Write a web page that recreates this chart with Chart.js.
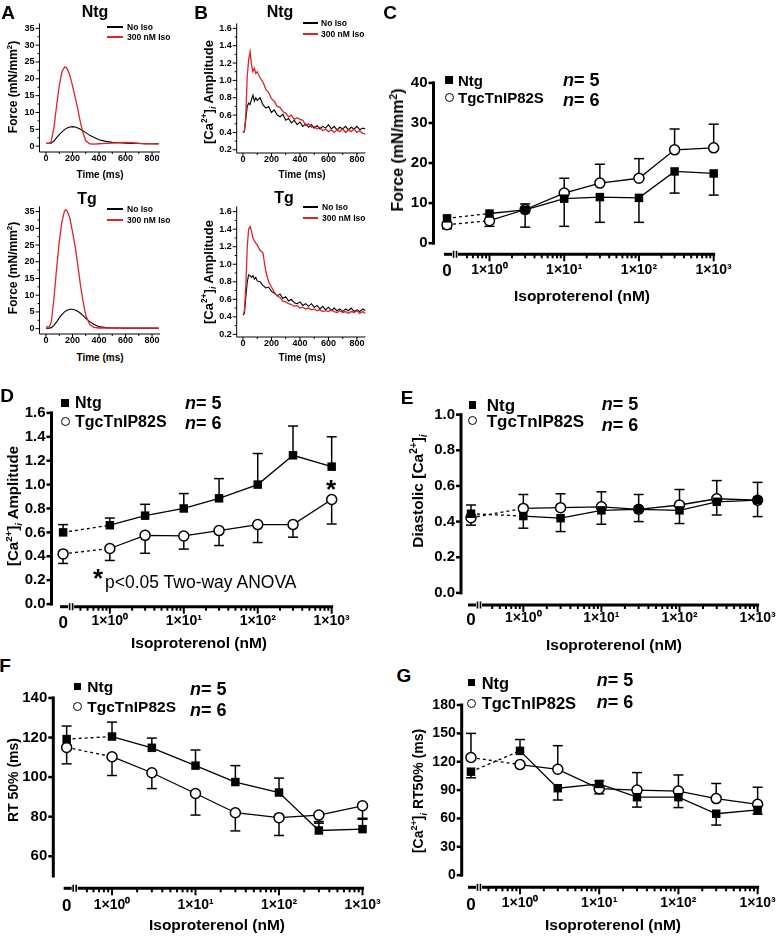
<!DOCTYPE html>
<html lang="en">
<head>
<meta charset="UTF-8" />
<title>Isoproterenol response, Ntg vs TgcTnIP82S</title>
<script src="https://cdn.jsdelivr.net/npm/chart.js"></script>
<style>
  body { margin: 0; background: #fff; }
  #fig { position: relative; width: 777px; height: 936px; overflow: hidden;
         font-family: "Liberation Sans", Arial, sans-serif; color: #000; }
  #fig canvas { position: absolute; }
  .t { position: absolute; white-space: nowrap; line-height: 1; font-weight: bold; }
  .mk { position: absolute; box-sizing: border-box; }
  sup, sub { font-size: 0.65em; line-height: 0; }
</style>
</head>
<body>
<div id="fig"></div>
<script>
const FONT = '"Liberation Sans", Arial, sans-serif';
Chart.defaults.font.family = FONT;
Chart.defaults.color = '#000';

// ---- A: force traces (mN/mm2) ----
const timeA = [0, 25, 40, 60, 80, 100, 120, 140, 150, 160, 180, 200, 220, 240, 260, 280, 300, 330, 360, 400, 450, 500, 550, 600, 650, 700, 750, 800, 850];
const forceNtgNoIso = [0.8, 0.8, 0.9, 1.5, 2.5, 3.4, 4.2, 4.9, 5.2, 5.4, 5.7, 5.8, 5.7, 5.4, 5.0, 4.5, 4.0, 3.2, 2.6, 1.9, 1.4, 1.1, 1.0, 0.9, 0.8, 0.8, 0.7, 0.7, 0.7];
const forceNtgIso = [0.8, 0.8, 1.5, 5.5, 12, 18, 22, 23.5, 23.4, 23.0, 21.0, 18.0, 14.5, 11.0, 7.0, 3.8, 1.6, 0.7, 0.6, 0.7, 0.8, 0.9, 1.0, 1.1, 1.0, 0.8, 0.7, 0.7, 0.6];
const forceTgNoIso = [0.1, 0.1, 0.3, 1.0, 2.0, 3.2, 4.2, 5.0, 5.3, 5.5, 5.8, 5.8, 5.6, 5.2, 4.6, 3.9, 3.1, 2.1, 1.3, 0.6, 0.3, 0.2, 0.2, 0.1, 0.1, 0.1, 0.1, 0.1, 0.1];
const forceTgIso = [0.5, 0.5, 2.0, 9.0, 18.0, 26.0, 32.0, 35.2, 35.5, 35.2, 33.0, 29.0, 24.5, 19.0, 13.0, 8.0, 4.0, 1.2, 0.4, 0.2, 0.2, 0.2, 0.2, 0.2, 0.2, 0.2, 0.2, 0.2, 0.2];

// ---- B: Ca2+ transients (amplitude) ----
const timeB = [0, 10, 20, 30, 40, 50, 60, 70, 80, 90, 100, 120, 140, 160, 180, 200, 220, 240, 260, 280, 300, 320, 340, 360, 380, 400, 420, 440, 460, 480, 500, 520, 540, 560, 580, 600, 620, 640, 660, 680, 700, 720, 740, 760, 780, 800, 820, 840, 860];
const caNtgNoIso = [0.40, 0.41, 0.55, 0.70, 0.74, 0.72, 0.78, 0.83, 0.76, 0.80, 0.77, 0.80, 0.72, 0.68, 0.70, 0.63, 0.66, 0.60, 0.58, 0.61, 0.54, 0.56, 0.51, 0.54, 0.49, 0.52, 0.47, 0.50, 0.46, 0.49, 0.45, 0.48, 0.44, 0.47, 0.45, 0.49, 0.44, 0.47, 0.43, 0.46, 0.44, 0.47, 0.43, 0.46, 0.44, 0.47, 0.43, 0.45, 0.44];
const caNtgIso = [0.40, 0.42, 0.60, 1.05, 1.24, 1.33, 1.18, 1.10, 1.14, 1.08, 1.10, 1.03, 0.98, 0.90, 0.86, 0.79, 0.76, 0.70, 0.69, 0.64, 0.62, 0.58, 0.60, 0.55, 0.57, 0.55, 0.54, 0.48, 0.50, 0.46, 0.47, 0.44, 0.46, 0.42, 0.44, 0.41, 0.43, 0.40, 0.43, 0.41, 0.44, 0.40, 0.43, 0.41, 0.44, 0.40, 0.42, 0.39, 0.38];
const caTgNoIso = [0.42, 0.44, 0.62, 0.80, 0.88, 0.87, 0.85, 0.87, 0.83, 0.85, 0.81, 0.80, 0.76, 0.73, 0.74, 0.69, 0.67, 0.64, 0.66, 0.61, 0.63, 0.58, 0.60, 0.56, 0.55, 0.57, 0.53, 0.55, 0.52, 0.55, 0.51, 0.53, 0.49, 0.52, 0.48, 0.51, 0.47, 0.50, 0.47, 0.49, 0.46, 0.49, 0.47, 0.50, 0.46, 0.48, 0.46, 0.49, 0.47];
const caTgIso = [0.45, 0.46, 0.75, 1.20, 1.40, 1.43, 1.38, 1.30, 1.27, 1.24, 1.22, 1.16, 1.13, 0.92, 0.80, 0.74, 0.68, 0.64, 0.62, 0.58, 0.57, 0.55, 0.54, 0.52, 0.53, 0.50, 0.51, 0.49, 0.50, 0.48, 0.49, 0.47, 0.48, 0.46, 0.47, 0.46, 0.48, 0.46, 0.45, 0.47, 0.45, 0.46, 0.44, 0.46, 0.45, 0.47, 0.44, 0.46, 0.44];

// trace axis ticks
const timeTicks = [0, 200, 400, 600, 800];
const timeMinor = [100, 300, 500, 700];
const forceTicks = [0, 5, 10, 15, 20, 25, 30, 35];
const forceMinor = [2.5, 7.5, 12.5, 17.5, 22.5, 27.5, 32.5];
const caTicks = [0.2, 0.4, 0.6, 0.8, 1.0, 1.2, 1.4, 1.6];
const caMinor = [0.3, 0.5, 0.7, 0.9, 1.1, 1.3, 1.5];

// ---- C-G: dose response (mean, and error bar tip) ----
const isoDoses = [0, 1, 3, 10, 30, 100, 300, 1000];
const doseTickLabels = ['0', '1×10⁰', '1×10¹', '1×10²', '1×10³'];

const forceNtg    = [6.2, 7.4, 8.3, 11.1, 11.5, 11.3, 17.9, 17.4];
const forceNtgTip = [6.2, 7.4, 4.0, 4.2, 5.2, 5.2, 12.5, 12.0];
const forceTgc    = [4.6, 5.6, 8.4, 12.5, 15.0, 16.2, 23.3, 23.8];
const forceTgcTip = [3.6, 4.2, 9.8, 16.2, 19.7, 21.1, 28.5, 29.7];
const forceDoseTicks = [0, 10, 20, 30, 40];

const ampNtg    = [0.60, 0.66, 0.74, 0.80, 0.885, 1.00, 1.245, 1.15];
const ampNtgTip = [0.665, 0.72, 0.835, 0.925, 1.05, 1.26, 1.49, 1.40];
const ampTgc    = [0.42, 0.465, 0.575, 0.57, 0.615, 0.665, 0.665, 0.875];
const ampTgcTip = [0.34, 0.365, 0.425, 0.46, 0.49, 0.515, 0.56, 0.67];
const ampTicks = [0, 0.2, 0.4, 0.6, 0.8, 1.0, 1.2, 1.4, 1.6];

const diaNtg    = [0.444, 0.431, 0.419, 0.463, 0.469, 0.463, 0.511, 0.520];
const diaNtgTip = [0.493, 0.363, 0.344, 0.385, 0.400, 0.389, 0.437, 0.428];
const diaTgc    = [0.422, 0.474, 0.478, 0.483, 0.469, 0.493, 0.528, 0.520];
const diaTgcTip = [0.380, 0.552, 0.556, 0.567, 0.552, 0.580, 0.630, 0.620];
const diaTicks = [0, 0.2, 0.4, 0.6, 0.8, 1.0];

const rtNtg    = [119.2, 120.5, 114.8, 105.8, 97.5, 92.2, 73.0, 73.7];
const rtNtgTip = [125.8, 127.8, 119.7, 113.7, 105.8, 99.5, 77.5, 78.7];
const rtTgc    = [115.0, 110.3, 102.2, 91.7, 82.0, 79.5, 80.8, 85.5];
const rtTgcTip = [106.7, 100.8, 94.2, 80.8, 72.8, 70.5, 76.7, 79.2];
const rtTicks = [60, 80, 100, 120, 140];

const caRtNtg    = [109.5, 131.5, 92.0, 96.5, 82.5, 82.5, 65.0, 69.0];
const caRtNtgTip = [103.0, 143.5, 79.5, 99.5, 72.0, 71.5, 53.0, 64.5];
const caRtTgc    = [124.5, 117.0, 112.0, 91.5, 90.0, 89.0, 81.0, 75.0];
const caRtTgcTip = [150.0, 117.0, 137.0, 86.0, 108.5, 106.0, 97.0, 93.0];
const caRtTicks = [0, 30, 60, 90, 120, 150, 180];

const fig = document.getElementById('fig');

function seg(ctx, x1, y1, x2, y2) {
  ctx.beginPath(); ctx.moveTo(x1, y1); ctx.lineTo(x2, y2); ctx.stroke();
}

// canvas placed so that the chart area lands on the given page box
function place(area, yw, pt, pr, xh) {
  const cv = document.createElement('canvas');
  const left = Math.round(area.l - yw), top = Math.round(area.t - pt);
  const w = Math.ceil(area.r - left + pr), h = Math.ceil(area.b - top + xh);
  cv.width = w; cv.height = h;
  cv.style.left = left + 'px'; cv.style.top = top + 'px';
  fig.appendChild(cv);
  return {
    cv, yw: area.l - left, xh: h - (area.b - top),
    pad: {left: 0, top: area.t - top, right: w - (area.r - left), bottom: 0}
  };
}

const noGrid = {display: false, drawTicks: false};

const traceAxes = {
  id: 'traceAxes',
  beforeDatasetsDraw(chart, args, o) {
    const {ctx, chartArea: a, scales: {x, y}} = chart;
    ctx.save();
    ctx.strokeStyle = '#000'; ctx.lineWidth = 1;
    seg(ctx, a.left, a.top, a.left, a.bottom);
    seg(ctx, a.left, a.bottom, a.right, a.bottom);
    o.yMajor.forEach(v => { const p = y.getPixelForValue(v); seg(ctx, a.left - 4, p, a.left, p); });
    o.yMinor.forEach(v => { const p = y.getPixelForValue(v); seg(ctx, a.left - 2, p, a.left, p); });
    o.xMajor.forEach(v => { const p = x.getPixelForValue(v); seg(ctx, p, a.bottom, p, a.bottom + 4); });
    o.xMinor.forEach(v => { const p = x.getPixelForValue(v); seg(ctx, p, a.bottom, p, a.bottom + 2); });
    ctx.restore();
  }
};

function traceChart(area, r, time, noIso, iso, yTicks, yMinor, digits) {
  const p = place(area, 40, 8, 16, 18);
  new Chart(p.cv, {
    type: 'line',
    data: {datasets: [
      {data: time.map((t, i) => ({x: t, y: iso[i]})), borderColor: '#d8262a', borderWidth: 1.3, pointRadius: 0},
      {data: time.map((t, i) => ({x: t, y: noIso[i]})), borderColor: '#000', borderWidth: 1.1, pointRadius: 0}
    ]},
    options: {
      responsive: false, animation: false, events: [],
      layout: {padding: p.pad},
      plugins: {legend: {display: false}, tooltip: {enabled: false},
        traceAxes: {yMajor: yTicks, yMinor: yMinor, xMajor: timeTicks, xMinor: timeMinor}},
      scales: {
        x: {type: 'linear', min: r.xMin, max: r.xMax,
            afterFit: s => { s.height = p.xh; },
            afterBuildTicks: s => { s.ticks = timeTicks.map(v => ({value: v})); },
            grid: noGrid, border: {display: false},
            ticks: {padding: 1.5, maxRotation: 0, autoSkip: false, font: {size: 9, weight: 'bold'}}},
        y: {min: r.yMin, max: r.yMax,
            afterFit: s => { s.width = p.yw; },
            afterBuildTicks: s => { s.ticks = yTicks.map(v => ({value: v})); },
            grid: noGrid, border: {display: false},
            ticks: {padding: 5, font: {size: 9, weight: 'bold'}, callback: v => v.toFixed(digits)}}
      }
    },
    plugins: [traceAxes]
  });
}

const doseAxes = {
  id: 'doseAxes',
  beforeDatasetsDraw(chart, args, o) {
    const {ctx, chartArea: a, scales: {x, y}} = chart;
    ctx.save();
    ctx.strokeStyle = '#000';
    ctx.lineWidth = 3;
    seg(ctx, a.left, y.getPixelForValue(o.yFrom) + 1.5, a.left, y.getPixelForValue(o.yTo) - 1.5);
    ctx.lineWidth = 2.5;
    o.yTicks.forEach(v => { const p = y.getPixelForValue(v); seg(ctx, a.left - 5, p, a.left, p); });
    // x axis, broken just after the zero dose
    const zx = x.getPixelForValue(o.zero), b = a.bottom, end = x.getPixelForValue(3);
    ctx.lineWidth = 3;
    seg(ctx, zx - 3, b, zx + 5, b);
    seg(ctx, zx + 11, b, end + 1.5, b);
    ctx.lineWidth = 1.6;
    seg(ctx, zx + 6.5, b - 3.5, zx + 6.5, b + 3.5);
    seg(ctx, zx + 9.5, b - 3.5, zx + 9.5, b + 3.5);
    ctx.lineWidth = 2;
    for (let d = -1; d <= 3; d++) {
      if (d >= 0) { const px = x.getPixelForValue(d); seg(ctx, px, b, px, b + 7); }
      if (d < 3) {
        for (let m = 2; m <= 9; m++) {
          const px = x.getPixelForValue(d + Math.log10(m));
          if (px > zx + 15) seg(ctx, px, b, px, b + 4);
        }
      }
    }
    // error bars (mean -> tip)
    ctx.lineWidth = 1.5;
    chart.data.datasets.forEach((ds, i) => {
      chart.getDatasetMeta(i).data.forEach((pt, j) => {
        const ty = y.getPixelForValue(ds.tips[j]);
        if (Math.abs(ty - pt.y) < 1) return;
        seg(ctx, pt.x, pt.y, pt.x, ty);
        seg(ctx, pt.x - 5, ty, pt.x + 5, ty);
      });
    });
    ctx.restore();
  }
};

function doseSet(xs, ys, tips, filled) {
  return {
    data: xs.map((x, i) => ({x, y: ys[i]})),
    tips,
    borderColor: '#000', borderWidth: 1.3,
    pointStyle: filled ? 'rect' : 'circle',
    pointRadius: filled ? 6 : 5,
    pointBackgroundColor: filled ? '#000' : '#fff',
    pointBorderColor: '#000', pointBorderWidth: filled ? 0 : 1.5,
    segment: {borderDash: c => c.p0DataIndex === 0 ? [3, 3] : undefined},
    clip: false
  };
}

function doseChart(area, c) {
  const p = place(area, 48, 12, 30, 34);
  const xs = isoDoses.map(d => d === 0 ? c.zero : Math.log10(d));
  const xTicks = [c.zero, 0, 1, 2, 3];
  new Chart(p.cv, {
    type: 'line',
    data: {datasets: [
      doseSet(xs, c.ntg, c.ntgTip, true),
      doseSet(xs, c.tgc, c.tgcTip, false)
    ]},
    options: {
      responsive: false, animation: false, events: [],
      layout: {padding: p.pad},
      plugins: {legend: {display: false}, tooltip: {enabled: false},
        doseAxes: {zero: c.zero, yFrom: c.yFrom, yTo: c.yTo, yTicks: c.yTicks}},
      scales: {
        x: {type: 'linear', min: c.xMin, max: c.xMax,
            afterFit: s => { s.height = p.xh; },
            afterBuildTicks: s => { s.ticks = xTicks.map(v => ({value: v})); },
            grid: noGrid, border: {display: false},
            ticks: {padding: c.xPad, maxRotation: 0, autoSkip: false,
                    font: t => ({size: t.index === 0 ? 17 : 14, weight: 'bold'}),
                    callback: (v, i) => doseTickLabels[i]}},
        y: {min: c.yMin, max: c.yMax,
            afterFit: s => { s.width = p.yw; },
            afterBuildTicks: s => { s.ticks = c.yTicks.map(v => ({value: v})); },
            grid: noGrid, border: {display: false},
            ticks: {padding: 6, font: {size: c.yFont, weight: 'bold'}, callback: v => v.toFixed(c.digits)}}
      }
    },
    plugins: [doseAxes]
  });
}

// ---- panels A and B ----
const rA = {xMin: -49, xMax: 860};
traceChart({l: 39.5, t: 21, r: 160, b: 152}, {...rA, yMin: -1.75, yMax: 36.46}, timeA, forceNtgNoIso, forceNtgIso, forceTicks, forceMinor, 0);
traceChart({l: 39.5, t: 204, r: 160, b: 334}, {...rA, yMin: -1.6, yMax: 36.55}, timeA, forceTgNoIso, forceTgIso, forceTicks, forceMinor, 0);
const rB = {xMin: -44, xMax: 860};
traceChart({l: 236.7, t: 21, r: 365.5, b: 153}, {...rB, yMin: 0.163, yMax: 1.657}, timeB, caNtgNoIso, caNtgIso, caTicks, caMinor, 1);
traceChart({l: 236.7, t: 204, r: 365.5, b: 337}, {...rB, yMin: 0.17, yMax: 1.66}, timeB, caTgNoIso, caTgIso, caTicks, caMinor, 1);

// ---- panels C to G ----
doseChart({l: 433.5, t: 75, r: 716, b: 254.3}, {xMin: -0.749, xMax: 3.031, zero: -0.568, yMin: -2.78, yMax: 41.23,
  yFrom: 0, yTo: 40, yTicks: forceDoseTicks, digits: 0, yFont: 15, xPad: 7,
  ntg: forceNtg, ntgTip: forceNtgTip, tgc: forceTgc, tgcTip: forceTgcTip});
doseChart({l: 51.5, t: 405, r: 333, b: 606.7}, {xMin: -0.789, xMax: 3.018, zero: -0.632, yMin: -0.022, yMax: 1.641,
  yFrom: 0, yTo: 1.6, yTicks: ampTicks, digits: 1, yFont: 15, xPad: 6.5,
  ntg: ampNtg, ntgTip: ampNtgTip, tgc: ampTgc, tgcTip: ampTgcTip});
doseChart({l: 461, t: 407, r: 759, b: 605}, {xMin: -0.798, xMax: 3.018, zero: -0.67, yMin: -0.068, yMax: 1.026,
  yFrom: 0, yTo: 1.0, yTicks: diaTicks, digits: 1, yFont: 15, xPad: 5,
  ntg: diaNtg, ntgTip: diaNtgTip, tgc: diaTgc, tgcTip: diaTgcTip});
doseChart({l: 53.3, t: 690, r: 365.7, b: 888.3}, {xMin: -0.703, xMax: 3.038, zero: -0.543, yMin: 43.8, yMax: 142.5,
  yFrom: 50, yTo: 140, yTicks: rtTicks, digits: 0, yFont: 15, xPad: 8,
  ntg: rtNtg, ntgTip: rtNtgTip, tgc: rtTgc, tgcTip: rtTgcTip});
doseChart({l: 461.7, t: 698, r: 760, b: 887.3}, {xMin: -0.736, xMax: 3.03, zero: -0.619, yMin: -12.85, yMax: 184.9,
  yFrom: 0, yTo: 180, yTicks: caRtTicks, digits: 0, yFont: 14, xPad: 7.5,
  ntg: caRtNtg, ntgTip: caRtNtgTip, tgc: caRtTgc, tgcTip: caRtTgcTip});

// ---- text overlay ----
function label(html, x, y, o = {}) {
  const d = document.createElement('div');
  d.className = 't';
  d.innerHTML = html;
  d.style.left = x + 'px'; d.style.top = y + 'px';
  d.style.fontSize = (o.size || 12) + 'px';
  if (o.normal) d.style.fontWeight = 'normal';
  const tx = o.left ? '0' : '-50%';
  d.style.transform = `translate(${tx},-50%)` + (o.rotate ? ' rotate(-90deg)' : '');
  fig.appendChild(d);
}
function mark(kind, x, y, s) {
  const d = document.createElement('div');
  d.className = 'mk';
  Object.assign(d.style, {left: (x - s / 2) + 'px', top: (y - s / 2) + 'px', width: s + 'px', height: s + 'px'});
  if (kind === 'square') d.style.background = '#000';
  else Object.assign(d.style, {border: '1.5px solid #000', borderRadius: '50%', background: '#fff'});
  fig.appendChild(d);
}
function rule(color, x1, x2, y) {
  const d = document.createElement('div');
  d.className = 'mk';
  Object.assign(d.style, {left: x1 + 'px', top: (y - 0.75) + 'px', width: (x2 - x1) + 'px', height: '1.5px', background: color});
  fig.appendChild(d);
}

const CA = '[Ca<sup>2+</sup>]<sub><i>i</i></sub>';
[['A', 8, 12], ['B', 201, 12], ['C', 390, 12], ['D', 7, 395], ['E', 407, 397], ['F', 5, 665], ['G', 404, 675]]
  .forEach(([s, x, y]) => label(s, x, y, {size: 19}));
[['Ntg', 95, 12], ['Tg', 87, 199], ['Ntg', 280, 12], ['Tg', 284, 198]].forEach(([s, x, y]) => label(s, x, y, {size: 16}));

// trace legends
[[107, 123, 127, 27, 37], [107, 123, 127, 209, 220], [303, 318, 321, 23, 34], [303, 318, 322, 207, 218]]
  .forEach(([x1, x2, tx, y1, y2]) => {
    rule('#000', x1, x2, y1); rule('#d8262a', x1, x2, y2);
    label('No Iso', tx, y1, {size: 8.5, left: true});
    label('300 nM Iso', tx, y2, {size: 8.5, left: true});
  });
[[100, 175], [100, 358], [302, 175], [302, 358]].forEach(([x, y]) => label('Time (ms)', x, y, {size: 10}));
label('Force (mN/mm<sup>2</sup>)', 13, 87, {size: 12, rotate: true});
label('Force (mN/mm<sup>2</sup>)', 13, 268, {size: 12, rotate: true});
label(CA + ' Amplitude', 208, 92, {size: 13, rotate: true});
label(CA + ' Amplitude', 208, 272, {size: 13, rotate: true});

// dose-response legends: marker x, row y's, text x, n x, n row y's, font
[[449, 80, 97, 458, 563, 80, 100, 15],
 [65, 403, 421.7, 75, 185, 403, 423, 16],
 [472.7, 405, 420.7, 486.7, 601.7, 404, 425, 17],
 [77.3, 686.7, 706.7, 87.3, 190, 689.3, 710, 15.5],
 [471.7, 682.7, 703.3, 481.7, 596.7, 680, 701.7, 16.5]]
  .forEach(([mx, y1, y2, tx, nx, n1, n2, fs]) => {
    mark('square', mx, y1, 7.5);
    mark('circle', mx, y2, 9);
    label('Ntg', tx, y1, {size: fs, left: true});
    label('TgcTnIP82S', tx, y2, {size: fs, left: true});
    label('<i>n</i>= 5', nx, n1, {size: 18, left: true});
    label('<i>n</i>= 6', nx, n2, {size: 18, left: true});
  });

[[582, 296], [199, 643], [614, 645], [217, 925], [613, 925]]
  .forEach(([x, y]) => label('Isoproterenol (nM)', x, y, {size: 15.5}));
label('Force (mN/mm<sup>2</sup>)', 398, 150, {size: 16, rotate: true});
label(CA + ' Amplitude', 12, 506, {size: 15, rotate: true});
label('Diastolic ' + CA, 418, 491, {size: 15.5, rotate: true});
label('RT 50% (ms)', 13, 780, {size: 14, rotate: true});
label(CA + ' RT50% (ms)', 418, 791, {size: 14, rotate: true});

label('*', 331, 489, {size: 26});
label('*', 98, 578, {size: 26});
label('p&lt;0.05 Two-way ANOVA', 105, 583, {size: 17.5, normal: true, left: true});
</script>
</body>
</html>
